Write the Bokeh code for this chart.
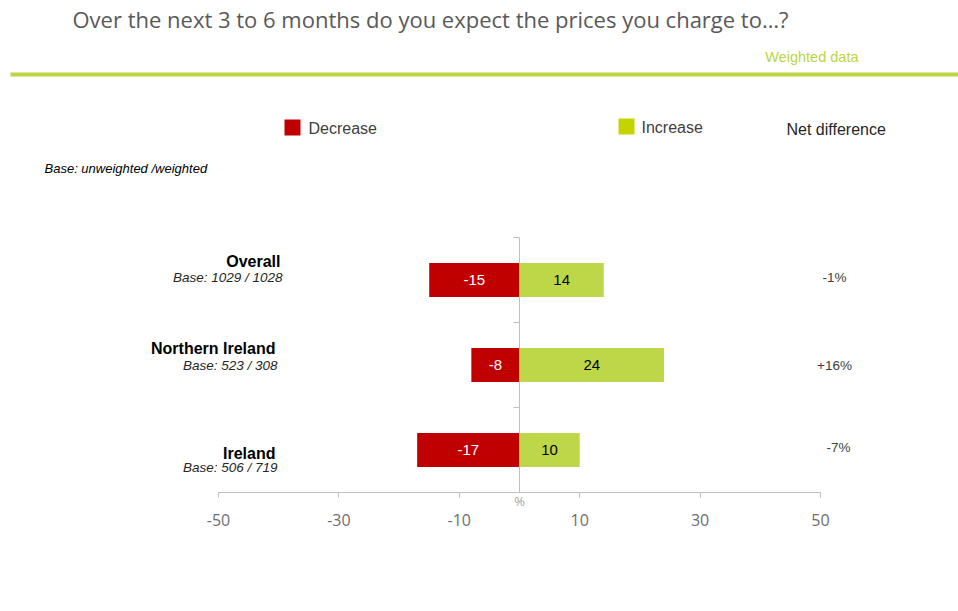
from bokeh.plotting import figure
from bokeh.models import Range1d, LinearAxis, FixedTicker, Label, BoxAnnotation, ColumnDataSource
from bokeh.embed import file_html
from bokeh.resources import INLINE
from bokeh.core.properties import value

# ---- data ----
categories = ["Overall", "Northern Ireland", "Ireland"]
bases = ["Base: 1029 / 1028", "Base: 523 / 308", "Base: 506 / 719"]
decrease = [-15, -8, -17]
increase = [14, 24, 10]
x_ticks = [-50, -30, -10, 10, 30, 50]

net = [i + d for i, d in zip(increase, decrease)]
net_labels = [f"{v:+d}%" if v > 0 else f"{v}%" for v in net]

# ---- layout ----
W, H = 958, 603
AL, AR, AT, AB = 218, 820, 237, 492  # chart area (px) for x -50..50, y n..0
XMIN, XMAX = -50, 50
n = len(categories)
ys = [n - 0.5 - k for k in range(n)]

RED = "#C00000"
GREEN = "#BDD748"
LEG_GREEN = "#C5D300"
FONT = "Liberation Sans"


def dx(px):  # px -> data x
    return XMIN + (px - AL) * (XMAX - XMIN) / (AR - AL)


def dy(py):  # px -> data y
    return (AB - py) * n / (AB - AT)


px_per_unit = (AB - AT) / n

p = figure(width=W, height=H, output_backend="svg", toolbar_location=None,
           x_range=Range1d(dx(0), dx(W)), y_range=Range1d(dy(H), dy(0)),
           min_border=0, min_border_left=0, min_border_right=0,
           min_border_top=0, min_border_bottom=0,
           x_axis_location=None, y_axis_location=None)
p.outline_line_color = None
p.xgrid.visible = False
p.ygrid.visible = False
p.background_fill_color = "white"
p.border_fill_color = "white"

src = ColumnDataSource(dict(y=ys, dec=decrease, inc=increase,
                            dec_mid=[d / 2 for d in decrease],
                            inc_mid=[i / 2 for i in increase],
                            dec_txt=[str(d) for d in decrease],
                            inc_txt=[str(i) for i in increase]))

p.hbar(y="y", left=0, right="dec", height=0.4, source=src, fill_color=RED, line_color=None)
p.hbar(y="y", left=0, right="inc", height=0.4, source=src, fill_color=GREEN, line_color=None)
p.text(x="dec_mid", y="y", text="dec_txt", source=src, text_align="center", text_baseline="middle",
       text_color="white", text_font=value(FONT), text_font_size="15px")
p.text(x="inc_mid", y="y", text="inc_txt", source=src, text_align="center", text_baseline="middle",
       text_color="black", text_font=value(FONT), text_font_size="15px")

# x axis at y = 0
xa = LinearAxis(ticker=FixedTicker(ticks=x_ticks), fixed_location=0, bounds=(XMIN, XMAX))
xa.axis_line_color = "#BFBFBF"
xa.major_tick_line_color = "#BFBFBF"
xa.major_tick_in = 0
xa.major_tick_out = 5
xa.minor_tick_line_color = None
xa.major_label_text_font = "Open Sans"
xa.major_label_text_font_size = "16px"
xa.major_label_text_color = "#6E6E6E"
xa.major_label_standoff = 16
xa.major_label_overrides = {t: str(t) for t in x_ticks}
p.add_layout(xa, "below")

# y axis at x = 0
ya = LinearAxis(ticker=FixedTicker(ticks=[1, 2, 3]), fixed_location=0, bounds=(0, n))
ya.axis_line_color = "#BFBFBF"
ya.major_tick_line_color = "#BFBFBF"
ya.major_tick_in = 0
ya.major_tick_out = 6
ya.minor_tick_line_color = None
ya.major_label_text_font_size = "0px"
ya.major_label_text_alpha = 0
p.add_layout(ya, "left")

p.add_layout(Label(x=0, y=dy(500), text="%", text_align="center", text_baseline="middle",
                   text_font="Open Sans", text_font_size="13px", text_color="#A6A6A6"))

# header
p.add_layout(Label(x=dx(72), y=dy(18), text="Over the next 3 to 6 months do you expect the prices you charge to\u2026?",
                   text_align="left", text_baseline="middle", text_font="Open Sans",
                   text_font_size="22px", text_color="#595959"))
p.add_layout(Label(x=dx(858), y=dy(56), text="Weighted data", text_align="right", text_baseline="middle",
                   text_font=FONT, text_font_size="14.5px", text_color="#BDD443"))
p.add_layout(BoxAnnotation(left=dx(10), right=dx(W), top=dy(72), bottom=dy(76),
                           fill_color="#BDD443", fill_alpha=1, line_color=None))

# legend
p.add_layout(BoxAnnotation(left=dx(284), right=dx(300), top=dy(119), bottom=dy(135),
                           fill_color=RED, fill_alpha=1, line_color=None))
p.add_layout(BoxAnnotation(left=dx(618), right=dx(634), top=dy(118), bottom=dy(134),
                           fill_color=LEG_GREEN, fill_alpha=1, line_color=None))
p.add_layout(Label(x=dx(308), y=dy(128), text="Decrease", text_align="left", text_baseline="middle",
                   text_font=FONT, text_font_size="16px", text_color="#404040"))
p.add_layout(Label(x=dx(641), y=dy(127), text="Increase", text_align="left", text_baseline="middle",
                   text_font=FONT, text_font_size="16px", text_color="#404040"))
p.add_layout(Label(x=dx(786), y=dy(129), text="Net difference", text_align="left", text_baseline="middle",
                   text_font=FONT, text_font_size="16px", text_color="#262626"))
p.add_layout(Label(x=dx(44), y=dy(168), text="Base: unweighted /weighted", text_align="left",
                   text_baseline="middle", text_font=FONT, text_font_size="13px",
                   text_font_style="italic", text_color="black"))

# category labels (per-row pixel offsets from bar centre, and right edges)
name_off = [-18.5, -16.5, 3.5]
base_off = [-2.5, 0.5, 17.5]
name_right = [280, 275, 275]
base_right = [282, 277, 277]
net_off = [-2.5, 0.5, -2.5]
net_cx = [834, 834, 838]
for k in range(n):
    p.add_layout(Label(x=dx(name_right[k]), y=ys[k] - name_off[k] / px_per_unit, text=categories[k],
                       text_align="right", text_baseline="middle", text_font=FONT,
                       text_font_size="16px", text_font_style="bold", text_color="black"))
    p.add_layout(Label(x=dx(base_right[k]), y=ys[k] - base_off[k] / px_per_unit, text=bases[k],
                       text_align="right", text_baseline="middle", text_font=FONT,
                       text_font_size="13.5px", text_font_style="italic", text_color="#262626"))
    p.add_layout(Label(x=dx(net_cx[k]), y=ys[k] - net_off[k] / px_per_unit, text=net_labels[k],
                       text_align="center", text_baseline="middle", text_font=FONT,
                       text_font_size="13.5px", text_color="#404040"))

open("out.html", "w").write(file_html(p, INLINE))
